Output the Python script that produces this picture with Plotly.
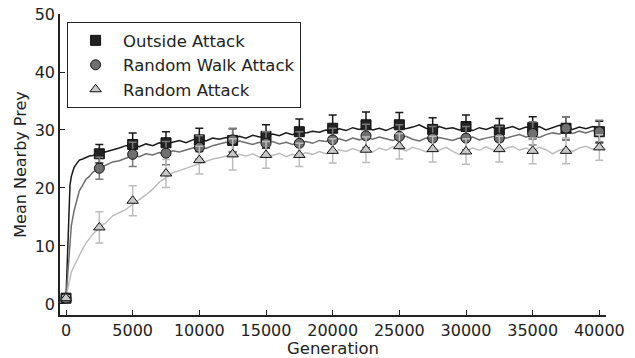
import plotly.graph_objects as go

# ---- noisy mean curves (sampled grid) ----
GEN_LINE = [0, 100, 200, 300, 400, 600, 800, 1000, 1250, 1500, 1750, 2000] + list(range(2500, 40001, 500))

OUT_LINE = [1.0, 8.0, 17.0, 20.5, 22.0, 23.5, 24.2, 24.8, 25.0, 25.3, 25.5, 25.6,
            25.9, 26.3, 26.6, 26.9, 27.3, 27.4, 27.1, 27.6, 27.3, 27.8,
            27.6, 27.9, 28.2, 27.8, 28.3, 28.5, 28.1, 28.6, 28.4, 28.7,
            28.5, 28.9, 28.6, 29.1, 28.8, 28.9, 29.3, 29.0, 29.5, 29.2,
            29.7, 29.5, 29.8, 29.6, 30.0, 29.8, 30.2, 29.9, 30.4, 30.1,
            30.5, 30.0, 30.3, 29.9, 30.4, 30.7, 30.2, 30.5, 30.9, 30.3,
            30.0, 30.6, 30.2, 30.4, 30.0, 30.3, 29.9, 30.4, 30.1, 30.5,
            29.9, 30.3, 30.6, 30.1, 30.5, 30.2, 30.6, 30.0, 30.4, 30.8,
            30.4, 30.1, 30.5, 30.2, 30.6, 30.3]

RW_LINE = [1.0, 4.0, 8.0, 11.0, 13.5, 16.0, 18.0, 19.5, 20.5, 21.5, 22.0, 22.7,
           23.4, 24.0, 24.5, 24.7, 25.2, 25.6, 25.4, 25.9, 25.7, 26.1,
           25.9, 26.4, 26.2, 26.6, 26.9, 27.1, 26.8, 27.3, 27.6, 27.9,
           27.7, 28.1, 27.8, 27.5, 27.9, 27.7, 28.0, 27.6, 27.9, 27.5,
           27.8, 28.0, 27.7, 28.2, 28.0, 28.3, 28.5, 28.1, 28.6, 28.3,
           28.7, 28.4, 28.8, 28.5, 28.2, 28.6, 28.9, 28.4, 28.1, 28.6,
           28.3, 28.7, 28.5, 28.2, 28.6, 28.4, 28.8, 28.3, 28.6, 28.9,
           29.1, 28.6, 28.9, 29.2, 28.8, 29.0, 28.7, 29.2, 29.5, 29.3,
           29.7, 29.4, 29.8, 29.5, 29.9, 29.7]

RA_LINE = [1.0, 2.0, 3.5, 4.5, 5.5, 6.5, 7.5, 8.5, 9.5, 10.5, 11.3, 12.0,
           13.2, 14.0, 15.2, 15.7, 16.3, 17.2, 18.0, 18.8, 19.8, 21.0,
           21.8, 22.6, 23.0, 23.4, 23.8, 24.2, 24.6, 25.0, 25.2, 25.5,
           25.4, 25.8, 25.5, 25.9, 25.3, 25.7, 25.6, 26.0, 25.4, 25.8,
           25.6, 26.1, 25.8, 26.3, 25.9, 26.2, 26.6, 26.3, 26.8, 26.4,
           26.7, 26.2, 26.9, 26.5, 27.1, 26.8, 26.4, 27.0, 26.7, 26.2,
           26.8, 26.5, 27.0, 26.3, 25.8, 26.4, 26.9, 26.5, 27.1, 26.6,
           26.2, 26.8, 27.2, 26.5, 26.9, 26.4, 27.0, 26.6, 25.9, 26.5,
           26.8, 26.3, 26.9, 27.2, 26.7, 27.0]

# ---- markers with error bars every 2500 generations ----
GEN_MARK = [0, 2500, 5000, 7500, 10000, 12500, 15000, 17500, 20000,
            22500, 25000, 27500, 30000, 32500, 35000, 37500, 40000]
OUT = [1.0, 25.9, 27.5, 27.8, 28.3, 28.2, 28.9, 29.7, 30.3, 30.9, 30.9, 30.1, 30.6, 30.0, 30.4, 30.3, 29.7]
OUT_ERR = [0.4, 1.6, 2.0, 1.9, 2.0, 2.0, 2.0, 2.2, 2.3, 2.2, 2.1, 2.0, 2.0, 2.0, 1.9, 2.0, 1.8]
RW = [1.0, 23.4, 25.8, 26.0, 27.0, 28.3, 27.7, 27.7, 28.3, 29.0, 28.9, 28.6, 28.6, 28.6, 29.4, 30.3, 29.7]
RW_ERR = [0.4, 1.9, 2.1, 2.0, 2.0, 2.0, 2.0, 2.0, 2.0, 2.0, 2.0, 2.0, 2.0, 2.0, 2.0, 2.0, 2.0]
RA = [1.0, 13.2, 17.8, 22.5, 24.8, 25.8, 25.7, 25.7, 26.4, 26.6, 27.2, 26.7, 26.3, 26.7, 26.4, 26.4, 27.0]
RA_ERR = [0.4, 2.7, 2.6, 2.4, 2.4, 2.7, 2.3, 2.0, 2.1, 2.2, 2.2, 2.2, 2.2, 2.2, 2.2, 2.2, 2.2]

NAMES = ["Outside Attack", "Random Walk Attack", "Random Attack"]
X_TICKS = [0, 5000, 10000, 15000, 20000, 25000, 30000, 35000, 40000]
Y_TICKS = [0, 10, 20, 30, 40, 50]

LINE_COLORS = ["#1a1a1a", "#6e6e6e", "#bdbdbd"]
FILL_COLORS = ["#222222", "#707070", "#c8c8c8"]
ERR_COLORS = ["#1a1a1a", "#7a7a7a", "#bdbdbd"]
SYMBOLS = ["square", "circle", "triangle-up"]

fig = go.Figure()

for yl, col in zip([OUT_LINE, RW_LINE, RA_LINE], LINE_COLORS):
    fig.add_trace(go.Scatter(x=GEN_LINE, y=yl, mode="lines",
                             line=dict(color=col, width=1.5),
                             showlegend=False, hoverinfo="skip"))

for name, y, err, fc, ec, sym in zip(NAMES, [OUT, RW, RA], [OUT_ERR, RW_ERR, RA_ERR],
                                     FILL_COLORS, ERR_COLORS, SYMBOLS):
    fig.add_trace(go.Scatter(
        x=GEN_MARK, y=y, mode="markers", name=name,
        marker=dict(symbol=sym, size=10, color=fc, line=dict(color="#111111", width=1)),
        error_y=dict(type="data", array=err, visible=True, color=ec, thickness=1.5, width=4),
    ))

fig.update_layout(
    width=635, height=358,
    margin=dict(l=60, r=29, t=14, b=43),
    paper_bgcolor="white", plot_bgcolor="white",
    font=dict(family="DejaVu Sans", color="#222222", size=16),
    legend=dict(x=0.013, y=0.973, xanchor="left", yanchor="top",
                bordercolor="#222222", borderwidth=1, bgcolor="white",
                font=dict(size=16.5), itemwidth=45, tracegroupgap=0),
    xaxis=dict(range=[-450, 40500], tickvals=X_TICKS, ticktext=[str(v) for v in X_TICKS],
               ticks="inside", ticklen=5, tickcolor="#222222", tickwidth=1,
               showline=True, linecolor="#222222", linewidth=1.5,
               showgrid=False, zeroline=False, automargin=False,
               ticklabeloverflow="allow",
               title=dict(text="Generation", font=dict(size=16.5), standoff=2),
               tickfont=dict(size=16)),
    yaxis=dict(range=[-1.9, 50], tickvals=Y_TICKS,
               ticks="inside", ticklen=5, tickcolor="#222222", tickwidth=1,
               showline=True, linecolor="#222222", linewidth=1.5,
               showgrid=False, zeroline=False, automargin=False,
               ticklabeloverflow="allow",
               title=dict(text="Mean Nearby Prey", font=dict(size=16), standoff=4),
               tickfont=dict(size=16)),
)

# remove the page's default body margin so the figure sits at the window's top-left corner
fig.write_html("out.html", post_script="document.body.style.margin='0';",
               config={"displayModeBar": False})
